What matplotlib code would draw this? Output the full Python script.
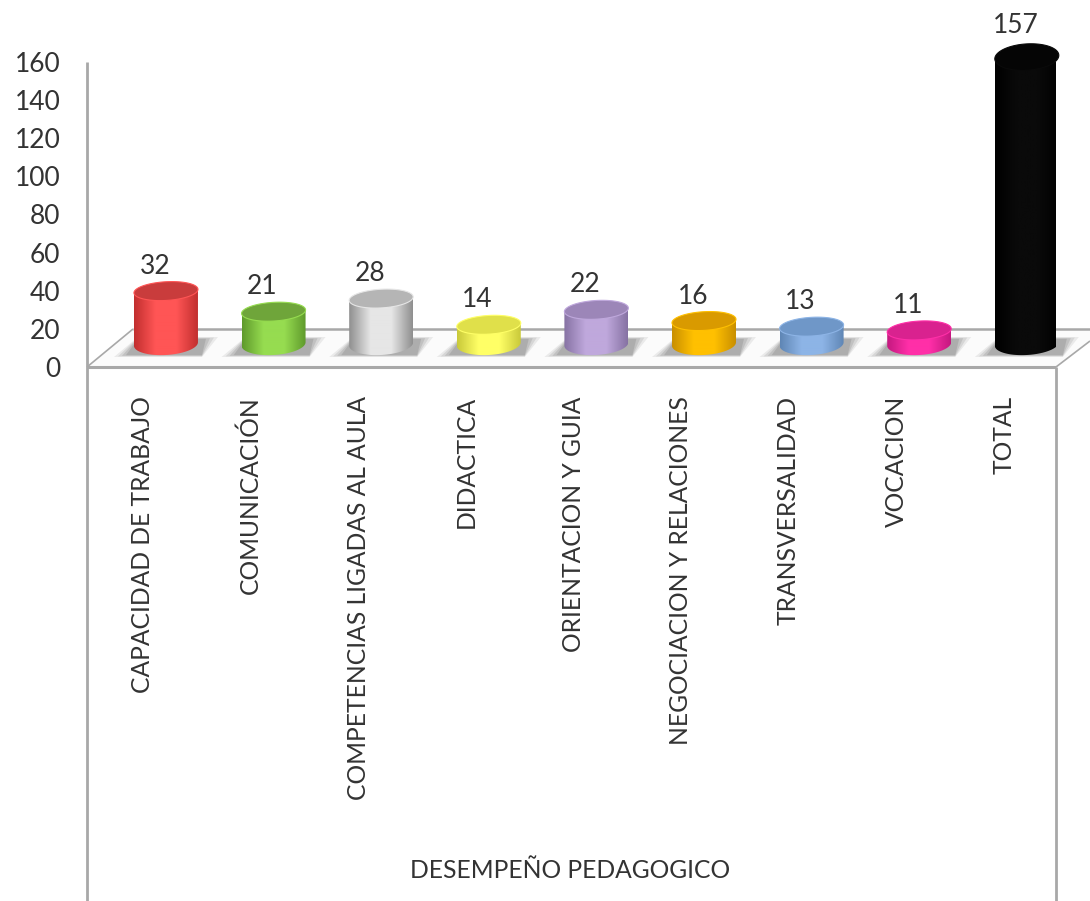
import numpy as np
import matplotlib
matplotlib.use('Agg')
import matplotlib.pyplot as plt
from matplotlib.colors import LinearSegmentedColormap
from matplotlib.patches import Polygon
from matplotlib.path import Path

plt.rcParams['font.family'] = ['Lato', 'DejaVu Sans']

categories = ['CAPACIDAD DE TRABAJO', 'COMUNICACIÓN', 'COMPETENCIAS LIGADAS AL AULA',
              'DIDACTICA', 'ORIENTACION Y GUIA', 'NEGOCIACION Y RELACIONES',
              'TRANSVERSALIDAD', 'VOCACION', 'TOTAL']
values = [32, 21, 28, 14, 22, 16, 13, 11, 157]
y_ticks = [0, 20, 40, 60, 80, 100, 120, 140, 160]
group_label = 'DESEMPEÑO PEDAGOGICO'

# edge, middle, top colour of each cylinder
edge_colors = ['#c22f2f', '#5f9a2c', '#8f8f8f', '#c9c93a', '#8672a3', '#c98f00', '#5f86b5', '#c4187f', '#000000']
mid_colors = ['#ff5555', '#96dc50', '#e6e6e6', '#ffff66', '#bfa8dc', '#ffc000', '#8db4e6', '#ff2fa8', '#0a0a0a']
top_colors = ['#c93c3c', '#6fa53a', '#b5b5b5', '#e0e04a', '#9c86b8', '#d99a00', '#6f97c8', '#d9228f', '#050505']

W, H = 1090, 901
AX_L, AX_R, AX_T, AX_B = 87, 1056, 62, 367
AXIS_GRAY = '#a8a8a8'
TEXT = '#333333'

fig = plt.figure(figsize=(W / 100, H / 100), dpi=100)
ax = fig.add_axes([AX_L / W, 1 - AX_B / H, (AX_R - AX_L) / W, (AX_B - AX_T) / H])
ax.set_xlim(-0.52, 8.485)
ax.set_ylim(0, 160)
ax.patch.set_alpha(0)

px_x = (AX_R - AX_L) / (ax.get_xlim()[1] - ax.get_xlim()[0])
px_y = (AX_B - AX_T) / 160


def to_axes(x, y):
    # picture pixels to axes fraction, for the floor and frame lines
    return (x - AX_L) / (AX_R - AX_L), (AX_B - y) / (AX_B - AX_T)


# floor of the 3D chart
floor = [to_axes(*p) for p in [(87, 367), (133, 329), (1090, 329), (1090, 341), (1056, 367)]]
ax.add_patch(Polygon(floor, closed=True, transform=ax.transAxes, facecolor='#fbfbfb',
                     edgecolor='none', clip_on=False, zorder=1))
for p0, p1, lw in [((87, 367), (133, 329), 1.2), ((133, 329), (1090, 329), 1.8),
                   ((1056, 367), (1090, 341), 1.2), ((87, 367), (1056, 367), 2.2),
                   ((87, 62), (87, 901), 2.0), ((1056, 367), (1056, 901), 2.0)]:
    a0, a1 = to_axes(*p0), to_axes(*p1)
    ax.plot([a0[0], a1[0]], [a0[1], a1[1]], transform=ax.transAxes, color=AXIS_GRAY,
            lw=lw, clip_on=False, zorder=2, solid_capstyle='butt')

half_w = 32 / px_x
half_h = 11 / px_y
tilt = 3.5 / 64 * (px_x / px_y)  # ellipses rise slightly to the right
depth_x = 23 / px_x
base_y = (AX_B - 344) / px_y
t = np.linspace(0, 2 * np.pi, 121)

for i, (v, c0, c1, c2) in enumerate(zip(values, edge_colors, mid_colors, top_colors)):
    cx = i + depth_x
    top_y = (AX_B - 351) / px_y + v * 1.872 / px_y
    top_h = half_h * (0.85 if v < 100 else 1.2)

    # soft floor shadow
    for grow, alpha in [(1.0, 0.12), (0.8, 0.16), (0.6, 0.20), (0.4, 0.24)]:
        sx = 20 * grow / px_x
        y0, y1 = (AX_B - 357 + 3 * (1 - grow)) / px_y, (AX_B - 337 - 3 * (1 - grow)) / px_y
        ax.add_patch(Polygon([(cx - half_w - sx, y0), (cx - half_w + 4 / px_x, y1),
                              (cx + half_w + sx, y1), (cx + half_w + 4 / px_x, y0)],
                             closed=True, facecolor='#707070', alpha=alpha, edgecolor='none',
                             clip_on=False, zorder=3))

    ex = cx + half_w * np.cos(t)
    rise = tilt * (ex - cx)

    # body: lower half of base ellipse closed up to the top ellipse
    low = np.sin(t) <= 0
    order = np.argsort(ex[low])
    bx = ex[low][order]
    by = (base_y + half_h * np.sin(t) + tilt * (ex - cx))[low][order]
    body = list(zip(bx, by)) + [(cx + half_w, top_y + tilt * half_w), (cx - half_w, top_y - tilt * half_w)]
    clip = Path(body + [body[0]], closed=True)

    cmap = LinearSegmentedColormap.from_list('cyl', [c0, c1, c1, c0])
    im = ax.imshow(np.linspace(0, 1, 128).reshape(1, -1), cmap=cmap, aspect='auto', zorder=4,
                   extent=(cx - half_w, cx + half_w, base_y - half_h * 1.3, top_y + half_h),
                   clip_on=True)
    im.set_clip_path(clip, transform=ax.transData)

    # top face
    top = np.column_stack([ex, top_y + top_h * np.sin(t) + rise])
    ax.add_patch(Polygon(top, closed=True, facecolor=c2, edgecolor=c1, lw=0.8,
                         clip_on=False, zorder=5))

    # value above the cylinder
    ax.annotate(str(v), (cx, top_y), xytext=(-8, 18 if v < 100 else 23), textcoords='offset points',
                ha='center', va='center', fontsize=19, color=TEXT, annotation_clip=False, zorder=6)

ax.set_xlim(-0.52, 8.485)
ax.set_ylim(0, 160)

ax.set_yticks(y_ticks)
ax.set_xticks(range(len(categories)))
ax.set_xticklabels(categories, rotation=90, ha='center', va='top', fontsize=17.7, color=TEXT)
ax.tick_params(axis='y', length=0, pad=19, labelsize=19, labelcolor=TEXT)
ax.tick_params(axis='x', length=0, pad=21)
for s in ax.spines.values():
    s.set_visible(False)

gx, gy = to_axes(570, 871)
ax.text(gx, gy, group_label, transform=ax.transAxes, ha='center', va='center',
        fontsize=17.7, color=TEXT, clip_on=False)

fig.savefig('out.png', dpi=100, facecolor='white')
